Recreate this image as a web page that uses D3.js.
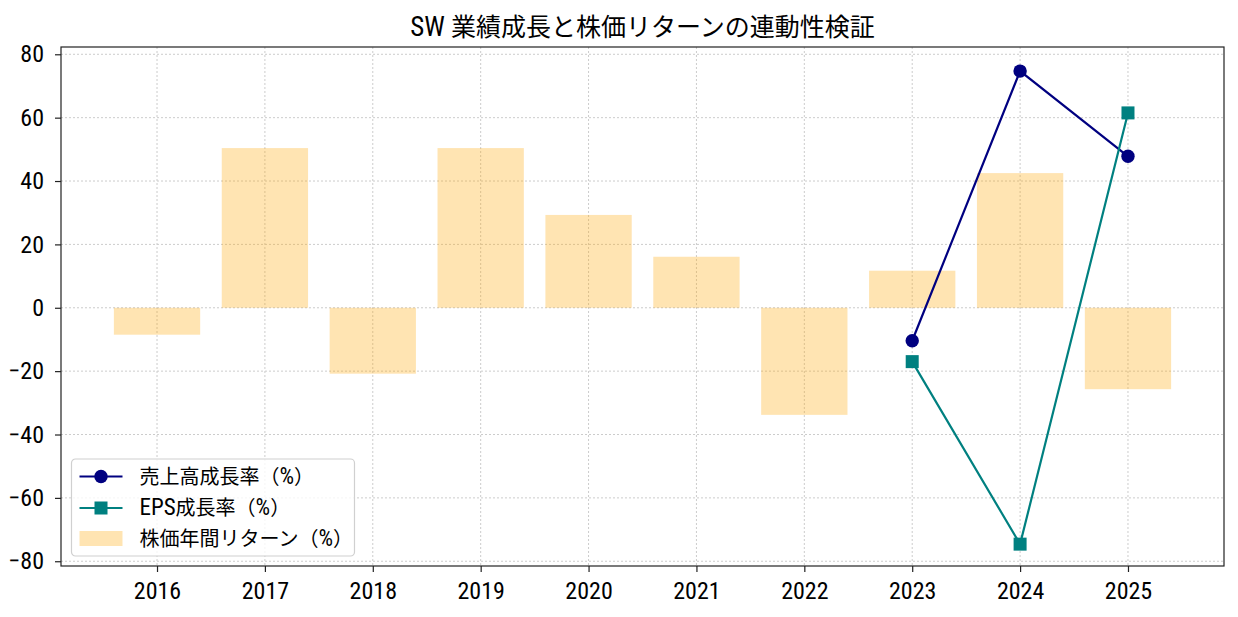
<!DOCTYPE html>
<html>
<head>
<meta charset="utf-8">
<script src="https://cdn.jsdelivr.net/npm/d3@7"></script>
<style>
  body { margin: 0; background: #fff; }
  text { font-family: "Roboto Condensed", "Noto Sans CJK JP", sans-serif; fill: #000; }
</style>
</head>
<body>
<div id="chart-area"></div>
<script>
// Data
var years = ["2016", "2017", "2018", "2019", "2020", "2021", "2022", "2023", "2024", "2025"];
var stockReturn = [-8.5, 50.4, -20.8, 50.4, 29.3, 16.1, -33.8, 11.7, 42.5, -25.7];
var salesYears = ["2023", "2024", "2025"];
var salesGrowth = [-10.4, 74.7, 47.8];
var epsGrowth = [-17.0, -74.6, 61.5];
var yTicks = [-80, -60, -40, -20, 0, 20, 40, 60, 80];
var legendLabels = ["売上高成長率（%）", "EPS成長率（%）", "株価年間リターン（%）"];

var margin = { left: 61, right: 14, top: 47, bottom: 51 },
    W = 1238, H = 617,
    width = W - margin.left - margin.right,
    height = H - margin.top - margin.bottom;

var svg = d3.select("#chart-area").append("svg")
    .attr("width", W)
    .attr("height", H);

var g = svg.append("g")
    .attr("transform", "translate(" + margin.left + "," + margin.top + ")");

// Latin runs in the condensed face, CJK runs in Noto at a smaller size
function mixedText(sel, str, latinSize, cjkSize) {
    var runs = str.match(/[\u3000-\u9fff\uff00-\uffef]+|[^\u3000-\u9fff\uff00-\uffef]+/g);
    runs.forEach(function(r){
        var cjk = /[\u3000-\u9fff\uff00-\uffef]/.test(r);
        sel.append("tspan")
            .attr("font-family", cjk ? "'Noto Sans CJK JP'" : "'Roboto Condensed'")
            .attr("font-size", (cjk ? cjkSize : latinSize) + "px")
            .text(r);
    });
}

// Scales
var x = d3.scaleLinear().domain([-0.89, years.length - 1 + 0.89]).range([0, width]);
var y = d3.scaleLinear().domain([-81.5, 82.3]).range([height, 0]);
var idx = function(yr){ return years.indexOf(yr); };

// Grid
g.append("g").selectAll("line").data(years).enter().append("line")
    .attr("x1", function(d, i){ return x(i); })
    .attr("x2", function(d, i){ return x(i); })
    .attr("y1", 0).attr("y2", height)
    .attr("stroke", "#cccccc").attr("stroke-width", 1).attr("stroke-dasharray", "2,2");
g.append("g").selectAll("line").data(yTicks).enter().append("line")
    .attr("y1", function(d){ return y(d); })
    .attr("y2", function(d){ return y(d); })
    .attr("x1", 0).attr("x2", width)
    .attr("stroke", "#cccccc").attr("stroke-width", 1).attr("stroke-dasharray", "2,2");

// Bars
var barW = x(0.8) - x(0);
g.append("g").selectAll("rect").data(stockReturn).enter().append("rect")
    .attr("x", function(d, i){ return x(i) - barW / 2; })
    .attr("width", barW)
    .attr("y", function(d){ return y(Math.max(0, d)); })
    .attr("height", function(d){ return Math.abs(y(d) - y(0)); })
    .attr("fill", "orange")
    .attr("fill-opacity", 0.3);

// Lines
var line = d3.line()
    .x(function(d){ return x(idx(d.yr)); })
    .y(function(d){ return y(d.v); });

var salesData = salesYears.map(function(yr, i){ return { yr: yr, v: salesGrowth[i] }; });
var epsData = salesYears.map(function(yr, i){ return { yr: yr, v: epsGrowth[i] }; });

g.append("path").attr("d", line(salesData))
    .attr("fill", "none").attr("stroke", "navy").attr("stroke-width", 2.2);
g.append("g").selectAll("circle").data(salesData).enter().append("circle")
    .attr("cx", function(d){ return x(idx(d.yr)); })
    .attr("cy", function(d){ return y(d.v); })
    .attr("r", 6.7)
    .attr("fill", "navy");

g.append("path").attr("d", line(epsData))
    .attr("fill", "none").attr("stroke", "teal").attr("stroke-width", 2.2);
g.append("g").selectAll("rect").data(epsData).enter().append("rect")
    .attr("x", function(d){ return x(idx(d.yr)) - 6.5; })
    .attr("y", function(d){ return y(d.v) - 6.5; })
    .attr("width", 13).attr("height", 13)
    .attr("fill", "teal");

// Axes
var xAxis = g.append("g")
    .attr("transform", "translate(0," + height + ")")
    .call(d3.axisBottom(x).tickValues(d3.range(years.length))
        .tickFormat(function(i){ return years[i]; }).tickSize(6).tickPadding(10));
var yAxis = g.append("g")
    .call(d3.axisLeft(y).tickValues(yTicks)
        .tickFormat(function(d){ return d < 0 ? "\u2212" + Math.abs(d) : d; }).tickSize(6).tickPadding(11));

[xAxis, yAxis].forEach(function(a){
    a.select(".domain").remove();
    a.selectAll("line").attr("stroke", "#222").attr("stroke-width", 1.2);
    a.selectAll("text")
        .attr("font-family", "'Roboto Condensed', sans-serif")
        .attr("font-size", "24px").attr("fill", "#000");
});

// Frame
g.append("rect")
    .attr("width", width).attr("height", height)
    .attr("fill", "none").attr("stroke", "#222").attr("stroke-width", 1.2);

// Title
var title = svg.append("text")
    .attr("x", margin.left + width / 2)
    .attr("y", 36)
    .attr("text-anchor", "middle");
mixedText(title, "SW ", 27, 25);
mixedText(title, "業績成長と株価リターンの連動性検証", 27, 25);

// Legend
var legend = svg.append("g").attr("transform", "translate(71.5,459)");
legend.append("rect")
    .attr("width", 283).attr("height", 97).attr("rx", 4)
    .attr("fill", "#fff").attr("fill-opacity", 0.8)
    .attr("stroke", "#d0d0d0").attr("stroke-width", 1.2);

legend.append("line").attr("x1", 8).attr("x2", 51).attr("y1", 17.5).attr("y2", 17.5)
    .attr("stroke", "navy").attr("stroke-width", 2.2);
legend.append("circle").attr("cx", 29.5).attr("cy", 17.5).attr("r", 6.7).attr("fill", "navy");

legend.append("line").attr("x1", 8).attr("x2", 51).attr("y1", 49).attr("y2", 49)
    .attr("stroke", "teal").attr("stroke-width", 2.2);
legend.append("rect").attr("x", 23).attr("y", 42.5).attr("width", 13).attr("height", 13).attr("fill", "teal");

legend.append("rect").attr("x", 8).attr("y", 72).attr("width", 43).attr("height", 15)
    .attr("fill", "orange").attr("fill-opacity", 0.3);

legendLabels.forEach(function(lbl, i){
    var t = legend.append("text")
        .attr("x", 68)
        .attr("y", 17.5 + i * 31 + 7.5);
    mixedText(t, lbl, 23, 20);
});
</script>
</body>
</html>
